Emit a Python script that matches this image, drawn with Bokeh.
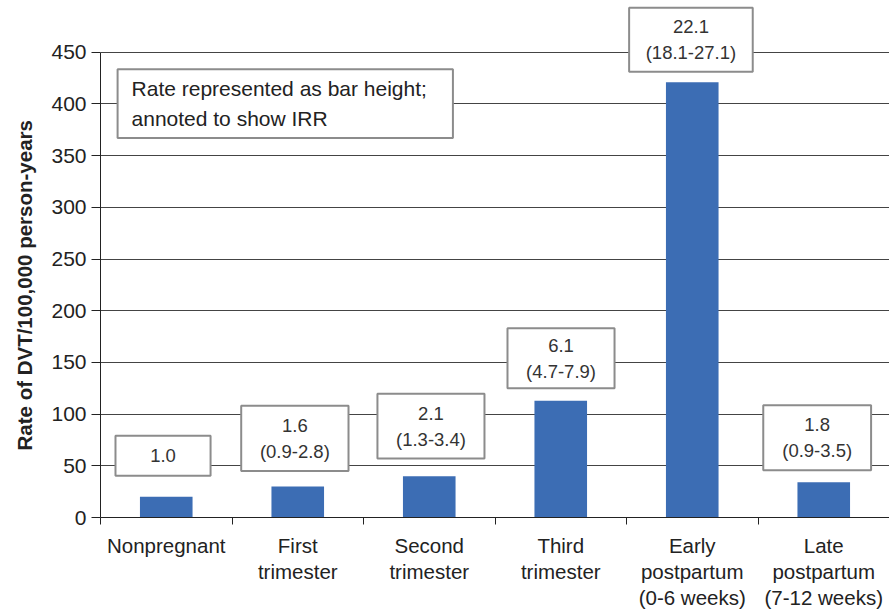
from bokeh.plotting import figure
from bokeh.models import Range1d, LinearAxis, FixedTicker, Grid, Title
from bokeh.core.properties import value
from bokeh.embed import file_html
from bokeh.resources import INLINE

# ---- data ----
categories = ["Nonpregnant", "First\ntrimester", "Second\ntrimester", "Third\ntrimester",
              "Early\npostpartum\n(0-6 weeks)", "Late\npostpartum\n(7-12 weeks)"]
rates = [20, 30, 40, 113, 421, 34]
irr_labels = ["1.0", "1.6\n(0.9-2.8)", "2.1\n(1.3-3.4)", "6.1\n(4.7-7.9)",
              "22.1\n(18.1-27.1)", "1.8\n(0.9-3.5)"]
y_ticks = [0, 50, 100, 150, 200, 250, 300, 350, 400, 450]
y_title = "Rate of DVT/100,000 person-years"
note_text = "Rate represented as bar height;\nannoted to show IRR"

# ---- annotation box placement (layout) ----
box_left = [0.114, 1.07, 2.106, 3.095, 4.02, 5.04]
box_right = [0.837, 1.886, 2.920, 3.909, 4.96, 5.86]
box_bottom = [40.3, 45.0, 57.0, 125.0, 431.0, 45.7]
box_top = [79.0, 108.0, 119.7, 183.0, 493.0, 108.5]
note_box = dict(left=0.13, right=2.68, bottom=367.0, top=433.6)
note_x = 0.236

FONT = "Liberation Sans"
DARK = "#222222"

n = len(categories)
centers = [i + 0.5 for i in range(n)]
bounds_x = [float(i) for i in range(n + 1)]

p = figure(width=889, height=612, x_range=Range1d(0, n), y_range=Range1d(0, 500),
           output_backend="svg", toolbar_location=None,
           x_axis_type=None, y_axis_type=None,
           min_border_left=100, min_border_right=0, min_border_top=0, min_border_bottom=94)
p.outline_line_color = None
p.background_fill_color = "white"
p.border_fill_color = "white"

yticker = FixedTicker(ticks=y_ticks, minor_ticks=[])
yaxis = LinearAxis(ticker=yticker, bounds=(0, 450),
                   major_tick_out=9, major_tick_in=0, minor_tick_out=0, minor_tick_in=0,
                   axis_line_color=DARK, major_tick_line_color=DARK,
                   major_label_text_font=FONT, major_label_text_font_size="21px",
                   major_label_text_color=DARK, major_label_standoff=5)
p.add_layout(yaxis, "left")

# y-axis title, centred on the 0-450 axis span
p.add_layout(Title(text=y_title, align="left", offset=67, standoff=22, vertical_align="top",
                   text_font=FONT, text_font_style="bold", text_font_size="20.5px",
                   text_color=DARK), "left")

xticker = FixedTicker(ticks=centers, minor_ticks=bounds_x)
xaxis = LinearAxis(ticker=xticker,
                   major_tick_out=0, major_tick_in=0, minor_tick_out=7, minor_tick_in=0,
                   axis_line_color=DARK, minor_tick_line_color=DARK,
                   major_label_overrides={c: lab for c, lab in zip(centers, categories)},
                   major_label_text_font=FONT, major_label_text_font_size="20.5px",
                   major_label_text_line_height=1.15,
                   major_label_text_color=DARK, major_label_standoff=9)
p.add_layout(xaxis, "below")

p.add_layout(Grid(dimension=1, ticker=yticker, grid_line_color="#444444", grid_line_width=1))

p.vbar(x=centers, top=rates, bottom=0, width=0.4, fill_color="#3c6db4", line_color=None)

p.quad(left=box_left, right=box_right, bottom=box_bottom, top=box_top,
       fill_color="white", line_color="#8c8c8c", line_width=2)
p.text(x=[(l + r) / 2 for l, r in zip(box_left, box_right)],
       y=[(b + t) / 2 for b, t in zip(box_bottom, box_top)],
       text=irr_labels, text_align="center", text_baseline="middle",
       text_font=value(FONT), text_font_size=value("18.5px"), text_color="#333333",
       text_line_height=1.25)

p.quad(left=[note_box["left"]], right=[note_box["right"]],
       bottom=[note_box["bottom"]], top=[note_box["top"]],
       fill_color="white", line_color="#8c8c8c", line_width=2)
p.text(x=[note_x], y=[(note_box["bottom"] + note_box["top"]) / 2], text=[note_text],
       text_align="left", text_baseline="middle",
       text_font=value(FONT), text_font_size=value("21px"), text_color="#222222",
       text_line_height=1.3)

open("out.html", "w").write(file_html(p, INLINE))
